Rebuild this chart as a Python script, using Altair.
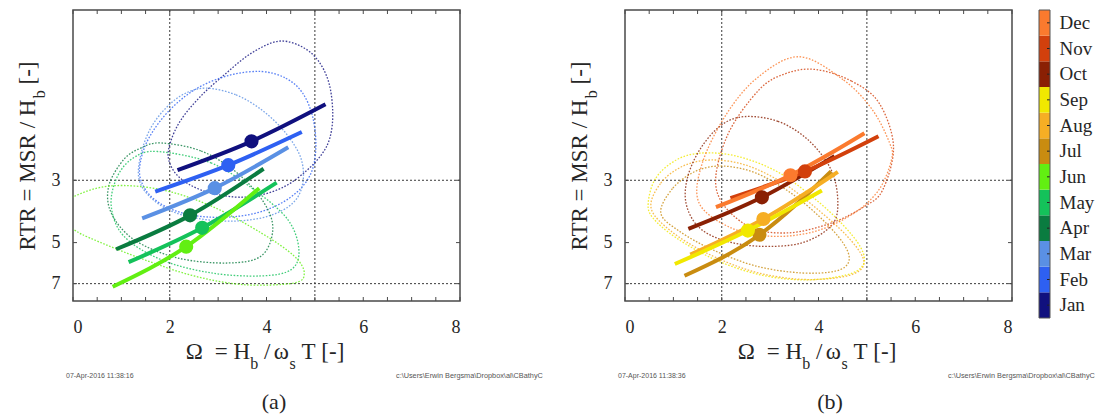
import altair as alt
import pandas as pd

MONTHS = ["Jan", "Feb", "Mar", "Apr", "May", "Jun",
          "Jul", "Aug", "Sep", "Oct", "Nov", "Dec"]
COLORS = ["#10107e", "#2e60f2", "#5a90e4", "#0a7c40", "#14c25a", "#62ef12",
          "#c98c10", "#f6ae24", "#f1e800", "#8a2004", "#d2400c", "#fb7a2e"]

X_LABELS = [0, 2, 4, 6, 8]
X_MINOR = [0, 0.5, 1, 1.5, 2, 2.5, 3, 3.5, 4, 4.5, 5, 5.5, 6, 6.5, 7, 7.5, 8]
Y_LABELS = [3, 5, 7]
REF_X = [2, 5]
REF_Y = [3, 7]

# ---------------- panel (a) : Jan - Jun ----------------
JAN_LOOP_X = [4.24, 4.71, 5.06, 5.29, 5.37, 5.31, 5.13, 4.82, 4.40, 3.89, 3.33, 2.65, 2.19, 1.98, 2.01, 2.23, 2.65, 3.16, 3.68]
JAN_LOOP_Y = [0.96, 1.00, 1.12, 1.35, 1.73, 2.12, 2.44, 2.78, 3.14, 3.38, 3.44, 3.25, 2.92, 2.54, 2.21, 1.83, 1.50, 1.25, 1.06]
FEB_LOOP_X = [3.89, 4.40, 4.75, 4.96, 5.02, 4.92, 4.61, 4.09, 3.47, 2.75, 2.13, 1.65, 1.41, 1.39, 1.57, 1.98, 2.54, 3.22]
FEB_LOOP_Y = [1.23, 1.30, 1.47, 1.80, 2.30, 2.83, 3.33, 3.77, 4.02, 4.05, 3.86, 3.47, 3.02, 2.60, 2.12, 1.70, 1.42, 1.27]
MAR_LOOP_X = [2.75, 3.37, 3.93, 4.40, 4.71, 4.75, 4.55, 4.05, 3.37, 2.65, 2.03, 1.57, 1.36, 1.41, 1.61, 1.92, 2.29]
MAR_LOOP_Y = [1.41, 1.49, 1.70, 2.04, 2.50, 3.07, 3.61, 4.02, 4.19, 4.12, 3.86, 3.41, 2.94, 2.40, 1.95, 1.66, 1.48]
APR_LOOP_X = [1.82, 2.65, 3.40, 3.95, 4.13, 3.89, 3.20, 2.16, 1.26, 0.79, 0.74, 1.05, 1.41]
APR_LOOP_Y = [2.21, 2.36, 2.83, 3.61, 4.50, 5.58, 5.91, 5.67, 4.88, 3.92, 3.14, 2.53, 2.30]
MAY_LOOP_X = [1.75, 2.85, 3.74, 4.44, 4.67, 4.51, 3.89, 2.85, 1.82, 1.05, 0.79, 0.92, 1.26]
MAY_LOOP_Y = [2.37, 2.60, 3.24, 4.14, 5.30, 6.24, 6.57, 6.41, 5.75, 4.74, 3.70, 2.90, 2.49]
JUN_LOOP_X = [-0.45, 0.03, 0.79, 1.82, 2.85, 3.89, 4.57, 4.78, 4.57, 3.53, 2.50, 1.47, 0.43, 0.02]
JUN_LOOP_Y = [3.92, 3.42, 3.14, 3.24, 3.70, 4.62, 5.58, 6.41, 6.96, 7.06, 6.57, 5.75, 4.88, 4.50]

JAN_LINE_X = [2.16, 3.69, 5.22]
JAN_LINE_Y = [2.76, 2.18, 1.61]
FEB_LINE_X = [1.70, 3.21, 4.73]
FEB_LINE_Y = [3.29, 2.65, 2.02]
MAR_LINE_X = [1.43, 2.93, 4.45]
MAR_LINE_Y = [4.10, 3.20, 2.29]
APR_LINE_X = [0.89, 2.42, 3.94]
APR_LINE_Y = [5.28, 4.00, 2.73]
MAY_LINE_X = [1.15, 2.67, 4.21]
MAY_LINE_Y = [5.87, 4.43, 3.06]
JUN_LINE_X = [0.82, 2.34, 3.85]
JUN_LINE_Y = [7.18, 5.17, 3.20]

MARK_A_X = [3.69, 3.21, 2.93, 2.42, 2.67, 2.34]
MARK_A_Y = [2.18, 2.65, 3.20, 4.00, 4.43, 5.17]

# ---------------- panel (b) : Jul - Dec ----------------
JUL_LOOP_X = [0.74, 0.99, 1.47, 2.03, 2.71, 3.43, 4.05, 4.51, 4.63, 4.36, 3.64, 2.71, 1.82, 1.12]
JUL_LOOP_Y = [3.92, 3.20, 2.78, 2.67, 2.83, 3.33, 4.09, 5.02, 5.81, 6.31, 6.41, 6.06, 5.31, 4.55]
AUG_LOOP_X = [0.54, 0.74, 1.20, 1.78, 2.50, 3.27, 3.95, 4.57, 4.92, 4.84, 4.36, 3.54, 2.61, 1.68, 0.95]
AUG_LOOP_Y = [3.77, 3.07, 2.67, 2.54, 2.65, 3.07, 3.77, 4.70, 5.67, 6.31, 6.68, 6.74, 6.31, 5.44, 4.55]
SEP_LOOP_X = [0.48, 0.64, 1.06, 1.57, 2.30, 3.12, 3.85, 4.47, 4.88, 4.92, 4.57, 3.74, 2.81, 1.88, 1.06, 0.58]
SEP_LOOP_Y = [3.61, 2.94, 2.54, 2.40, 2.46, 2.78, 3.41, 4.26, 5.23, 6.01, 6.52, 6.79, 6.52, 5.77, 4.81, 4.09]
OCT_LOOP_X = [2.47, 3.16, 3.78, 4.26, 4.40, 4.26, 3.64, 2.75, 1.99, 1.50, 1.26, 1.30, 1.57, 1.99]
OCT_LOOP_Y = [1.78, 1.85, 2.15, 2.75, 3.61, 4.36, 5.02, 5.15, 4.88, 4.36, 3.61, 2.90, 2.30, 1.91]
NOV_LOOP_X = [3.94, 4.68, 5.25, 5.55, 5.33, 4.96, 4.26, 3.35, 2.50, 1.89, 2.11, 2.77, 3.33]
NOV_LOOP_Y = [1.21, 1.33, 1.59, 2.27, 3.24, 3.71, 4.26, 4.62, 4.33, 3.24, 2.09, 1.43, 1.25]
DEC_LOOP_X = [3.61, 4.52, 5.11, 5.47, 5.51, 5.25, 4.74, 3.95, 3.06, 2.19, 1.53, 1.60, 2.11, 2.77]
DEC_LOOP_Y = [1.09, 1.32, 1.68, 2.21, 2.53, 3.24, 3.92, 4.55, 4.75, 4.43, 3.61, 2.60, 1.73, 1.28]

JUL_LINE_X = [1.23, 2.78, 4.26]
JUL_LINE_Y = [6.56, 4.69, 2.79]
AUG_LINE_X = [1.35, 2.86, 4.40]
AUG_LINE_Y = [5.52, 4.12, 2.80]
SEP_LINE_X = [1.03, 2.54, 4.07]
SEP_LINE_Y = [5.96, 4.53, 3.26]
OCT_LINE_X = [1.31, 2.83, 4.33]
OCT_LINE_Y = [4.47, 3.45, 2.46]
NOV_LINE_X = [2.18, 3.72, 5.24]
NOV_LINE_Y = [3.47, 2.79, 2.09]
DEC_LINE_X = [1.88, 3.42, 4.95]
DEC_LINE_Y = [3.74, 2.88, 2.04]

MARK_B_X = [2.78, 2.86, 2.54, 2.83, 3.72, 3.42]
MARK_B_Y = [4.69, 4.12, 4.53, 3.45, 2.79, 2.88]

STAMP_A = "07-Apr-2016 11:38:16"
STAMP_B = "07-Apr-2016 11:38:36"
PATH_TXT = "c:\\Users\\Erwin Bergsma\\Dropbox\\al\\CBathyC"

# ---------------- styling / layout ----------------
W, H = 387, 291
SERIF = "Liberation Serif"
SANS = "Liberation Sans"
TXT = "#262626"
XT, XS, SUBDY = 23, 16, 10

TIMES_W = {"Ω": 0.768, "ω": 0.686, "=": 0.564, " ": 0.25, "H": 0.722, "b": 0.5,
           "/": 0.278, "s": 0.389, "T": 0.611, "[": 0.333, "-": 0.333, "]": 0.333,
           "R": 0.667, "M": 0.889, "S": 0.556}


def wid(s, size):
    return sum(TIMES_W[c] for c in s) * size


cscale = alt.Scale(domain=MONTHS, range=COLORS)
xscale = alt.Scale(domain=[0, 8], nice=False, zero=False)
yscale = alt.Scale(type="log", domain=[0.743, 8.07], reverse=True, nice=False)
xaxis = alt.Axis(values=X_LABELS, title=None, format="d", labelFontSize=18,
                 labelPadding=17, labelFont=SERIF, labelColor=TXT)
yaxis = alt.Axis(values=Y_LABELS, title=None, format="d", labelFontSize=18,
                 labelPadding=13, labelFont=SERIF, labelColor=TXT)


def txt(s, x, y, size, font=SERIF, color=TXT, angle=0, align="left"):
    return alt.Chart(pd.DataFrame({"t": [s]})).mark_text(
        font=font, fontSize=size, color=color, angle=angle, align=align,
        baseline="alphabetic").encode(text="t:N", x=alt.value(x), y=alt.value(y))


def x_title(cx, y):
    segs = [("Ω", 0, 0), ("=", 0, 0.5), ("H", 0, 0.25), ("b", 1, 0), ("/", 0, 0.25),
            ("ω", 0, 0.15), ("s", 1, 0), ("T", 0, 0.25), ("[-]", 0, 0.25)]
    total = sum(wid(s, XS if sub else XT) + g * XT for s, sub, g in segs)
    x = cx - total / 2
    out = []
    for s, sub, g in segs:
        size = XS if sub else XT
        x += g * XT
        out.append(txt(s, x, y + (SUBDY if sub else 0), size))
        x += wid(s, size)
    return out


def y_title(bx, cy):
    segs = [("RTR = MSR / H", 0, 0), ("b", 1, 0), ("[-]", 0, 0.25)]
    total = sum(wid(s, XS if sub else XT) + g * XT for s, sub, g in segs)
    y = cy + total / 2
    out = []
    for s, sub, g in segs:
        size = XS if sub else XT
        y -= g * XT
        out.append(txt(s, bx + (SUBDY if sub else 0), y, size, angle=270))
        y -= wid(s, size)
    return out


def long_df(items):
    rows = []
    for m, xs, ys in items:
        for i, (a, b) in enumerate(zip(xs, ys)):
            rows.append({"month": m, "omega": a, "rtr": b, "i": i})
    return pd.DataFrame(rows)


def panel(loops, lines, mx, my, mmonths, label, stamp):
    ldf = long_df(loops)
    sdf = long_df(lines)
    mdf = pd.DataFrame({"month": mmonths, "omega": mx, "rtr": my})
    X = alt.X("omega:Q", scale=xscale, axis=xaxis)
    Y = alt.Y("rtr:Q", scale=yscale, axis=yaxis)
    C = alt.Color("month:N", scale=cscale, legend=None)

    refx = alt.Chart(pd.DataFrame({"v": REF_X})).mark_rule(
        color="#3a3a3a", strokeWidth=1, strokeDash=[2, 2]).encode(
        x=alt.X("v:Q", scale=xscale, axis=xaxis))
    refy = alt.Chart(pd.DataFrame({"v": REF_Y})).mark_rule(
        color="#3a3a3a", strokeWidth=1, strokeDash=[2, 2]).encode(
        y=alt.Y("v:Q", scale=yscale, axis=yaxis))
    tick_b = alt.Chart(pd.DataFrame({"v": X_MINOR})).mark_rule(
        color="#4a4a4a", strokeWidth=1).encode(
        x=alt.X("v:Q", scale=xscale, axis=xaxis), y=alt.value(H), y2=alt.value(H - 4))
    tick_t = alt.Chart(pd.DataFrame({"v": X_MINOR})).mark_rule(
        color="#4a4a4a", strokeWidth=1).encode(
        x=alt.X("v:Q", scale=xscale, axis=xaxis), y=alt.value(0), y2=alt.value(4))
    tick_l = alt.Chart(pd.DataFrame({"v": Y_LABELS})).mark_rule(
        color="#4a4a4a", strokeWidth=1).encode(
        y=alt.Y("v:Q", scale=yscale, axis=yaxis), x=alt.value(0), x2=alt.value(4))
    tick_r = alt.Chart(pd.DataFrame({"v": Y_LABELS})).mark_rule(
        color="#4a4a4a", strokeWidth=1).encode(
        y=alt.Y("v:Q", scale=yscale, axis=yaxis), x=alt.value(W - 4), x2=alt.value(W))

    loop_l = alt.Chart(ldf).mark_line(
        strokeWidth=1.3, strokeDash=[1.6, 1.6], interpolate="cardinal-closed",
        clip=True, opacity=0.8).encode(x=X, y=Y, color=C, detail="month:N", order="i:Q")
    line_l = alt.Chart(sdf).mark_line(
        strokeWidth=4, interpolate="monotone", clip=True).encode(
        x=X, y=Y, color=C, detail="month:N", order="i:Q")
    mark_l = alt.Chart(mdf).mark_circle(size=200, opacity=1).encode(x=X, y=Y, color=C)

    texts = x_title(192, 349) + y_title(-38, 146)
    texts.append(txt(label, 201 if label == "(a)" else 205, 399, 22, align="center"))
    texts.append(txt(stamp, -7, 368, 7, font=SANS, color="#555555"))
    texts.append(txt(PATH_TXT, 323, 368, 7.3, font=SANS, color="#555555"))
    return [refx, refy, tick_b, tick_t, tick_l, tick_r, loop_l, line_l, mark_l] + texts


layers_a = panel(
    [("Jan", JAN_LOOP_X, JAN_LOOP_Y), ("Feb", FEB_LOOP_X, FEB_LOOP_Y),
     ("Mar", MAR_LOOP_X, MAR_LOOP_Y), ("Apr", APR_LOOP_X, APR_LOOP_Y),
     ("May", MAY_LOOP_X, MAY_LOOP_Y), ("Jun", JUN_LOOP_X, JUN_LOOP_Y)],
    [("Jan", JAN_LINE_X, JAN_LINE_Y), ("Feb", FEB_LINE_X, FEB_LINE_Y),
     ("Mar", MAR_LINE_X, MAR_LINE_Y), ("Apr", APR_LINE_X, APR_LINE_Y),
     ("May", MAY_LINE_X, MAY_LINE_Y), ("Jun", JUN_LINE_X, JUN_LINE_Y)],
    MARK_A_X, MARK_A_Y, MONTHS[:6], "(a)", STAMP_A)

pin = alt.Chart(pd.DataFrame({"t": [0]})).mark_rule(
    strokeOpacity=0, strokeWidth=1).encode(
    x=alt.value(-64), y=alt.value(100), y2=alt.value(110))

panel_a = alt.layer(*(layers_a + [pin])).properties(width=W, height=H)

layers_b = panel(
    [("Jul", JUL_LOOP_X, JUL_LOOP_Y), ("Aug", AUG_LOOP_X, AUG_LOOP_Y),
     ("Sep", SEP_LOOP_X, SEP_LOOP_Y), ("Oct", OCT_LOOP_X, OCT_LOOP_Y),
     ("Nov", NOV_LOOP_X, NOV_LOOP_Y), ("Dec", DEC_LOOP_X, DEC_LOOP_Y)],
    [("Jul", JUL_LINE_X, JUL_LINE_Y), ("Aug", AUG_LINE_X, AUG_LINE_Y),
     ("Sep", SEP_LINE_X, SEP_LINE_Y), ("Oct", OCT_LINE_X, OCT_LINE_Y),
     ("Nov", NOV_LINE_X, NOV_LINE_Y), ("Dec", DEC_LINE_X, DEC_LINE_Y)],
    MARK_B_X, MARK_B_Y, MONTHS[6:], "(b)", STAMP_B)

# colour bar
CB_X0, CB_W, CB_H = 414, 11, 308
cbscale = alt.Scale(domain=MONTHS[::-1], range=[0, CB_H], paddingInner=0, paddingOuter=0)
cbaxis = alt.Axis(orient="right", offset=CB_X0 - W + CB_W, title=None, labelPadding=9,
                  labelFontSize=19, labelFont=SERIF, labelColor=TXT,
                  ticks=False, domain=False)
cbdf = pd.DataFrame({"month": MONTHS})
cb_rect = alt.Chart(cbdf).mark_rect().encode(
    x=alt.value(CB_X0), x2=alt.value(CB_X0 + CB_W),
    y=alt.Y("month:N", scale=cbscale, axis=cbaxis),
    color=alt.Color("month:N", scale=cscale, legend=None))
cb_tick = alt.Chart(cbdf).mark_rule(color="#222222", strokeWidth=1).encode(
    x=alt.value(CB_X0 + CB_W - 3), x2=alt.value(CB_X0 + CB_W),
    y=alt.Y("month:N", scale=cbscale, axis=cbaxis, bandPosition=0.5))
cb_box = alt.Chart(pd.DataFrame({"t": [0]})).mark_rect(
    filled=False, stroke="#555555", strokeWidth=1).encode(
    x=alt.value(CB_X0), x2=alt.value(CB_X0 + CB_W), y=alt.value(0), y2=alt.value(CB_H))
cbar = alt.layer(cb_rect, cb_tick, cb_box)

panel_b = alt.layer(alt.layer(*layers_b), cbar).resolve_scale(y="independent").properties(
    width=W, height=H)

chart = alt.hconcat(panel_a, panel_b, spacing=165, bounds="flush").properties(
    padding={"left": 0, "top": 0, "right": 5, "bottom": 5},
    background="white",
).configure_view(stroke="#4a4a4a", strokeWidth=1.5).configure_axis(
    grid=False, domain=False, ticks=False)

chart.save("out.html", embed_options={"renderer": "svg", "actions": False})
